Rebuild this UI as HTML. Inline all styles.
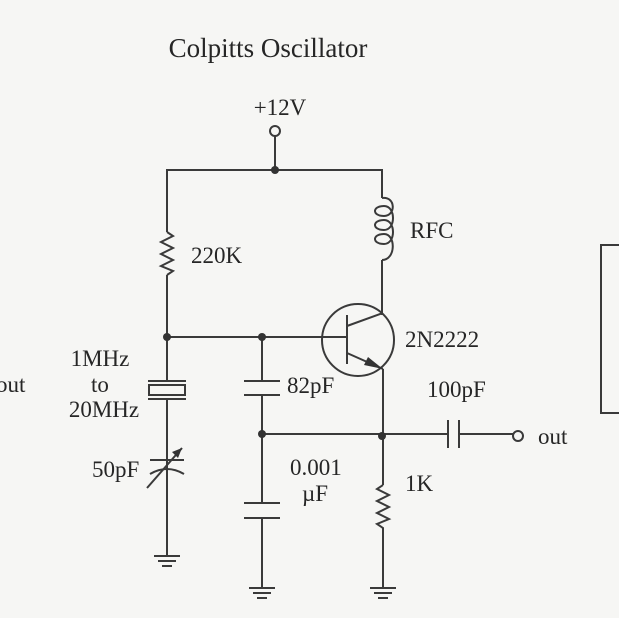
<!DOCTYPE html>
<html><head><style>
html,body{margin:0;padding:0;background:#f6f6f4;}
svg{display:block;}
text{font-family:"Liberation Serif",serif;fill:#262626;}
</style></head><body>
<svg width="619" height="618" viewBox="0 0 619 618">
<rect width="619" height="618" fill="#f6f6f4"/>
<g stroke="#3a3a3a" stroke-width="2" fill="none">
<polyline points="619,245 601,245 601,413 619,413"/>
<circle cx="275" cy="131" r="5"/>
<line x1="275" y1="136" x2="275" y2="170"/>
<polyline points="167,337 167,275"/>
<polyline points="167,232 167,170 382,170 382,198"/>
<polyline points="167,232 173,236 161,242 173,248 161,254 173,260 161,266 173,271 167,275"/>
<!-- inductor -->
<path d="M382,198 C396,196 396,216 384,216 C372,216 372,206 384,206 C396,206 396,230 384,230 C372,230 372,220 384,220 C396,220 396,244 384,244 C372,244 372,234 384,234 C396,234 396,260 382,260"/>
<line x1="382" y1="260" x2="382" y2="315"/>
<circle cx="358" cy="340" r="36"/>
<line x1="347" y1="315" x2="347" y2="364"/>
<line x1="167" y1="337" x2="347" y2="337"/>
<line x1="347" y1="326" x2="383" y2="313"/>
<line x1="347" y1="353" x2="383" y2="369"/>
<line x1="383" y1="369" x2="383" y2="485"/>
<line x1="167" y1="337" x2="167" y2="381"/>
<line x1="148" y1="381" x2="186" y2="381"/>
<rect x="149" y="385" width="36" height="10"/>
<line x1="148" y1="399" x2="186" y2="399"/>
<line x1="167" y1="399" x2="167" y2="556"/>
<line x1="150" y1="460" x2="184" y2="460"/>
<path d="M150,474 Q167,464 184,474"/>
<line x1="147" y1="488" x2="182" y2="448"/>
<line x1="262" y1="337" x2="262" y2="381"/>
<line x1="244" y1="381" x2="280" y2="381"/>
<line x1="244" y1="395" x2="280" y2="395"/>
<line x1="262" y1="395" x2="262" y2="503"/>
<line x1="262" y1="434" x2="447" y2="434"/>
<line x1="244" y1="503" x2="280" y2="503"/>
<line x1="244" y1="518" x2="280" y2="518"/>
<line x1="262" y1="518" x2="262" y2="588"/>
<line x1="448" y1="420" x2="448" y2="448"/>
<line x1="459" y1="420" x2="459" y2="448"/>
<line x1="459" y1="434" x2="513" y2="434"/>
<circle cx="518" cy="436" r="5"/>
<polyline points="383,485 377,489 389,495 377,501 389,507 377,513 389,519 377,524 383,528 383,588"/>
<line x1="154" y1="556" x2="180" y2="556"/>
<line x1="158" y1="561" x2="176" y2="561"/>
<line x1="162" y1="566" x2="172" y2="566"/>
<line x1="249" y1="588" x2="275" y2="588"/>
<line x1="253" y1="593" x2="271" y2="593"/>
<line x1="257" y1="598" x2="267" y2="598"/>
<line x1="370" y1="588" x2="396" y2="588"/>
<line x1="374" y1="593" x2="392" y2="593"/>
<line x1="378" y1="598" x2="388" y2="598"/>
</g>
<polygon points="383,369 368,357 364,365" fill="#333"/>
<polygon points="182,448 172,452 178,458" fill="#333"/>
<g fill="#333">
<circle cx="275" cy="170" r="4"/>
<circle cx="167" cy="337" r="4"/>
<circle cx="262" cy="337" r="4"/>
<circle cx="262" cy="434" r="4"/>
<circle cx="382" cy="436" r="4"/>
</g>
<g font-size="23">
<text x="268" y="57" text-anchor="middle" font-size="27">Colpitts Oscillator</text>
<text x="280" y="115" text-anchor="middle">+12V</text>
<text x="191" y="263">220K</text>
<text x="410" y="238">RFC</text>
<text x="405" y="347">2N2222</text>
<text x="100" y="366" text-anchor="middle">1MHz</text>
<text x="100" y="392" text-anchor="middle">to</text>
<text x="104" y="417" text-anchor="middle">20MHz</text>
<text x="-4" y="392">out</text>
<text x="287" y="393">82pF</text>
<text x="427" y="397">100pF</text>
<text x="538" y="444">out</text>
<text x="92" y="477">50pF</text>
<text x="290" y="475">0.001</text>
<text x="302" y="501">µF</text>
<text x="405" y="491">1K</text>
</g>
</svg>
</body></html>
